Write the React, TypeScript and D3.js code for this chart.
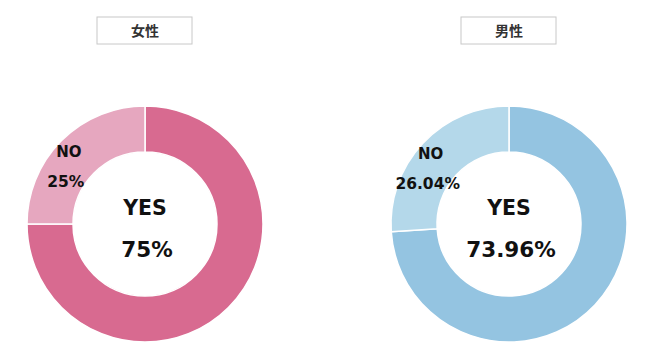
import React from 'react';
import * as d3 from 'd3';

const categories = ['YES', 'NO'];
const groups = ['女性', '男性'];
const femaleValues = [75, 25];
const maleValues = [73.96, 26.04];

const palettes = [
  ['#D86A90', '#E6A7BF'],
  ['#94C4E1', '#B4D8EA'],
];

const width = 650;
const height = 361;
const outerR = 118;
const innerR = 72;

const fmt = (v: number) => `${+v.toFixed(2)}%`;

const Donut = ({ cx, cy, title, values, colors }) => {
  const pie = d3.pie<number>().sort(null).value((d) => d);
  const arcs = pie(values);
  const arc = d3.arc<d3.PieArcDatum<number>>().innerRadius(innerR).outerRadius(outerR);
  const noArc = arcs[1];
  const [lx, ly] = arc.centroid(noArc);

  return (
    <g>
      <rect x={cx - 48} y={17} width={95} height={27} fill="#fff" stroke="#c8c8c8" strokeWidth={1} />
      <text
        x={cx}
        y={36}
        textAnchor="middle"
        fontSize={14}
        fontWeight="bold"
        fontFamily="'Noto Sans CJK JP', sans-serif"
        fill="#333"
      >
        {title}
      </text>
      <g transform={`translate(${cx},${cy})`}>
        {arcs.map((a, i) => (
          <path key={categories[i]} d={arc(a) || ''} fill={colors[i]} stroke="#fff" strokeWidth={1.5} />
        ))}
        <g fontFamily="'DejaVu Sans', sans-serif" fontWeight="bold" fill="#111" textAnchor="middle">
          <text x={lx - 9} y={ly} fontSize={15}>{categories[1]}</text>
          <text x={lx - 12} y={ly + 30} fontSize={15.5}>{fmt(values[1])}</text>
          <text x={0} y={-9} fontSize={20.5}>{categories[0]}</text>
          <text x={2} y={33} fontSize={21.5}>{fmt(values[0])}</text>
        </g>
      </g>
    </g>
  );
};

export default function App() {
  const x = d3.scalePoint<string>().domain(groups).range([145, 509]);
  const series = [femaleValues, maleValues];
  return (
    <svg width={width} height={height} style={{ position: 'absolute', left: 0, top: 0 }}>
      <rect width={width} height={height} fill="#fff" />
      {groups.map((g, i) => (
        <Donut key={g} cx={x(g)} cy={224} title={g} values={series[i]} colors={palettes[i]} />
      ))}
    </svg>
  );
}
